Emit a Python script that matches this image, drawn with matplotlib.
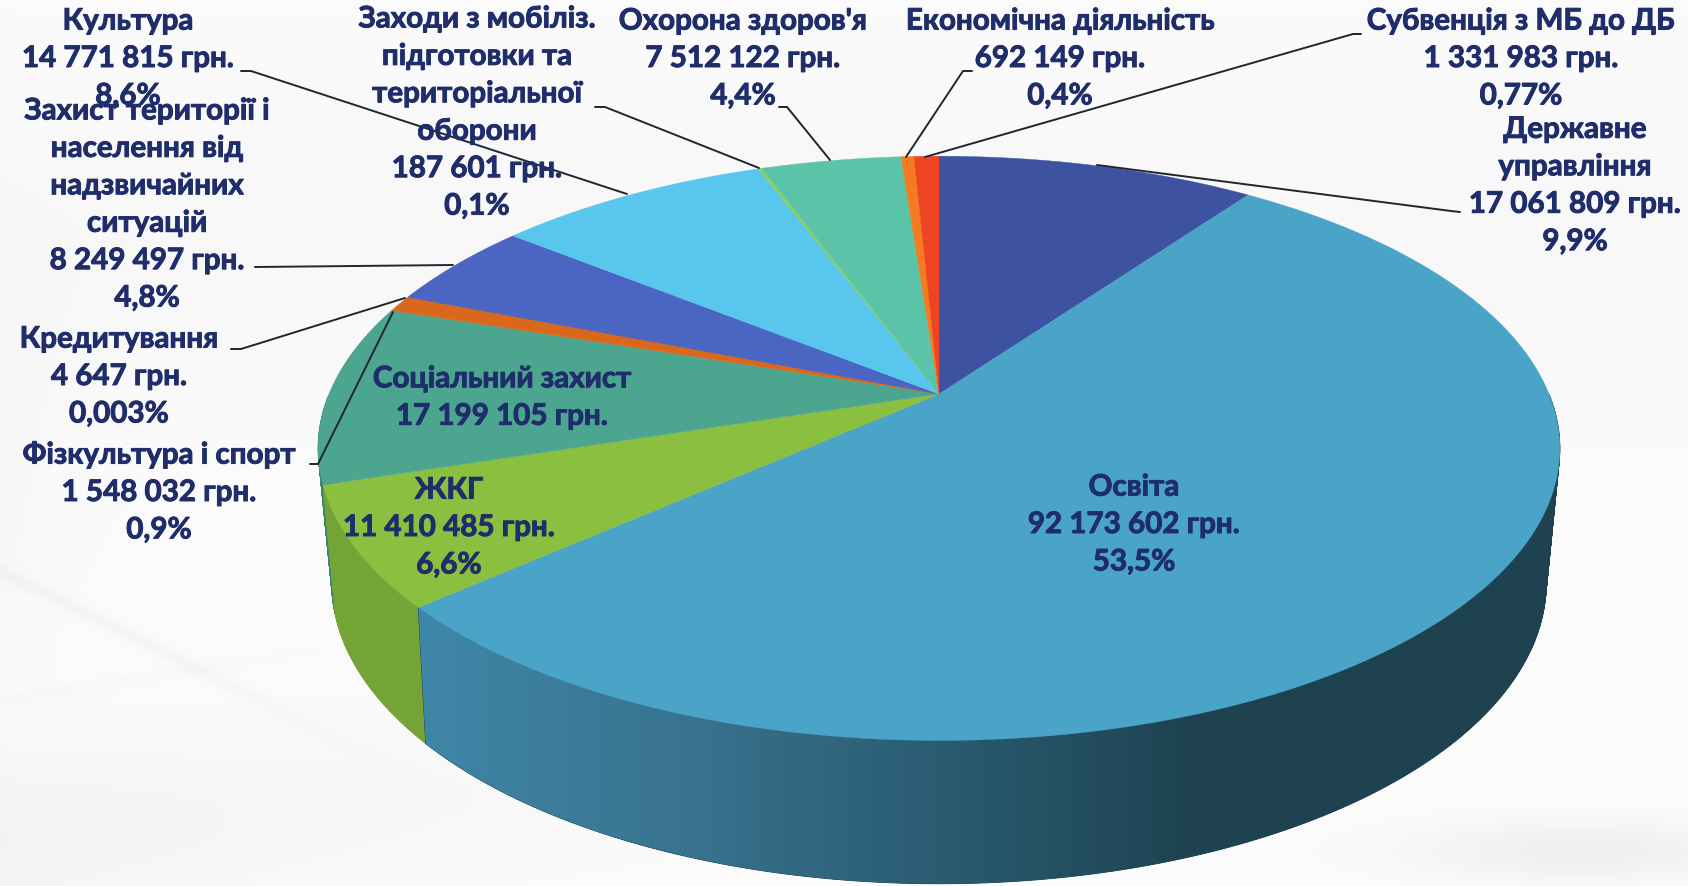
import matplotlib
matplotlib.use("Agg")
import matplotlib.pyplot as plt
import matplotlib.patheffects as pe
import numpy as np
from matplotlib.colors import LinearSegmentedColormap
from matplotlib.patches import Polygon

plt.rcParams['font.family'] = ['Lato', 'DejaVu Sans']

# дані
names = ['Державне\nуправління', 'Освіта', 'ЖКГ', 'Соціальний захист', 'Фізкультура і спорт',
         'Кредитування', 'Захист території і\nнаселення від\nнадзвичайних\nситуацій', 'Культура',
         'Заходи з мобіліз.\nпідготовки та\nтериторіальної\nоборони', "Охорона здоров'я",
         'Економічна діяльність', 'Субвенція з МБ до ДБ']
values = [17061809, 92173602, 11410485, 17199105, 1548032, 4647, 8249497, 14771815, 187601,
          7512122, 692149, 1331983]
amounts = ['17 061 809 грн.', '92 173 602 грн.', '11 410 485 грн.', '17 199 105 грн.', '1 548 032 грн.',
           '4 647 грн.', '8 249 497 грн.', '14 771 815 грн.', '187 601 грн.', '7 512 122 грн.',
           '692 149 грн.', '1 331 983 грн.']
percents = ['9,9%', '53,5%', '6,6%', '', '0,9%', '0,003%', '4,8%', '8,6%', '0,1%', '4,4%', '0,4%', '0,77%']
colors = ['#3d52a1', '#4aa4c8', '#8abf3f', '#4ca58f', '#d9681c', '#d9681c', '#4b65c3', '#59c6ee',
          '#8fd14f', '#5bc4a8', '#f47b20', '#ef4423']
side_colors = ['#1e4250', '#1e4250', '#74a336', '#3c8472', '#b05516', '#b05516', '#3a4f99', '#459bbb',
               '#70a53e', '#479a84', '#c06018', '#bc3519']
label_pos = [(1575, 185), (1134, 524), (449, 527), (502, 397), (159, 492), (119, 376), (147, 204),
             (128, 58), (477, 112), (743, 58), (1060, 58), (1521, 58)]
leaders = [[(1460, 212), (1451, 211), (1097, 165)],
           [(231, 349), (241, 349), (405, 298)],
           [(310, 464), (318, 464), (393, 312)],
           [(255, 267), (453, 265)],
           [(241, 71), (251, 71), (627, 194)],
           [(595, 107), (605, 107), (759, 168)],
           [(779, 107), (787, 107), (830, 160)],
           [(972, 71), (963, 71), (906, 157)],
           [(1361, 34), (1353, 34), (925, 157)]]

# перспектива: верхній і нижній круг
cx = 939
top = dict(a=610, b=282, k=0.186, cy=394)
bot = dict(a=595, b=289, k=0.2, cy=522.5)


def project(theta, p):
    x, y = np.sin(theta), np.cos(theta)
    w = 1 + p['k'] * y
    return cx + p['a'] * x / w, p['cy'] - p['b'] * y / w


fig = plt.figure(figsize=(16.88, 8.86), dpi=100)
ax = fig.add_axes([0, 0, 1, 1])
ax.set_xlim(0, 1688)
ax.set_ylim(886, 0)
ax.axis('off')

# світлий фон з хвилями
yy, xx = np.mgrid[0:886:2, 0:1688:2]
fade = np.exp(-(xx / 330.0) ** 4)
bg = np.full(xx.shape, 0.985)
bg -= 0.035 * np.exp(-((yy - (840 - 0.1 * xx)) / 90.0) ** 2) * np.exp(-xx / 600.0)
bg -= 0.05 * np.exp(-((yy - 850) / 30.0) ** 2) * np.exp(-((xx - 1580) / 170.0) ** 2)
bg -= 0.02 * np.exp(-xx / 60.0) * np.exp(-((yy - 480) / 200.0) ** 2)
bg -= 0.015 * np.exp(-((yy - 230) / 200.0) ** 2)
bg -= 0.025 * np.exp(-((yy - (570 + 0.5 * xx)) / 8.0) ** 2) * fade
bg -= 0.012 * np.exp(-((yy - (700 - 0.16 * xx)) / 6.0) ** 2) * fade
ax.imshow(bg, extent=(0, 1688, 886, 0), cmap='gray', vmin=0, vmax=1, aspect='auto', zorder=0,
          interpolation='bilinear')

edges = np.cumsum([0] + values) / sum(values) * 2 * np.pi
edu_cmap = LinearSegmentedColormap.from_list('edu', ['#3f87a8', '#39748f', '#2a5c72', '#1e4250'])

# бокова стінка, ззаду наперед
for i in list(range(len(values) - 1, 1, -1)) + [0, 1]:
    t = np.linspace(edges[i], edges[i + 1], max(3, int((edges[i + 1] - edges[i]) * 150)))
    t = t[np.cos(t) < 0]
    if len(t) < 2:
        continue
    tx, ty = project(t, top)
    bx, by = project(t, bot)
    for j in range(len(t) - 1):
        ax.fill([tx[j], tx[j + 1], bx[j + 1], bx[j]], [ty[j], ty[j + 1], by[j + 1], by[j]],
                color=side_colors[i], lw=0.6, zorder=2)

# стінка освіти з градієнтом
t = np.linspace(np.pi / 2, edges[2], 400)
tx, ty = project(t, top)
bx, by = project(t, bot)
wall = Polygon(np.c_[np.r_[tx, bx[::-1]], np.r_[ty, by[::-1]]], closed=True, fc='none', ec='none',
               transform=ax.transData)
ax.add_patch(wall)
ramp_x = np.linspace(415, 1600, 600)
ramp = edu_cmap(np.clip((ramp_x - 415) / 785, 0, 1))[None, :, :]
im = ax.imshow(ramp, extent=(415, 1600, 886, 440), aspect='auto', zorder=2.1, interpolation='bilinear')
im.set_clip_path(wall)

# верхня грань
for i in range(len(values)):
    t = np.linspace(edges[i], edges[i + 1], 200)
    x, y = project(t, top)
    ax.fill(np.r_[cx, x], np.r_[top['cy'], y], color=colors[i], lw=0.3, zorder=3)

for line in leaders:
    ax.plot(*zip(*line), color='#1f2533', lw=1.4, zorder=4, solid_capstyle='round')

for i in range(len(values)):
    parts = [names[i], amounts[i]]
    if percents[i]:
        parts.append(percents[i])
    ax.text(label_pos[i][0], label_pos[i][1], '\n'.join(parts), ha='center', va='center',
            fontsize=21.3, fontweight='bold', color='#1f2d6b', linespacing=1.41, zorder=5,
            path_effects=[pe.withStroke(linewidth=0.7, foreground='#1f2d6b')])

plt.savefig('out.png', dpi=100)
